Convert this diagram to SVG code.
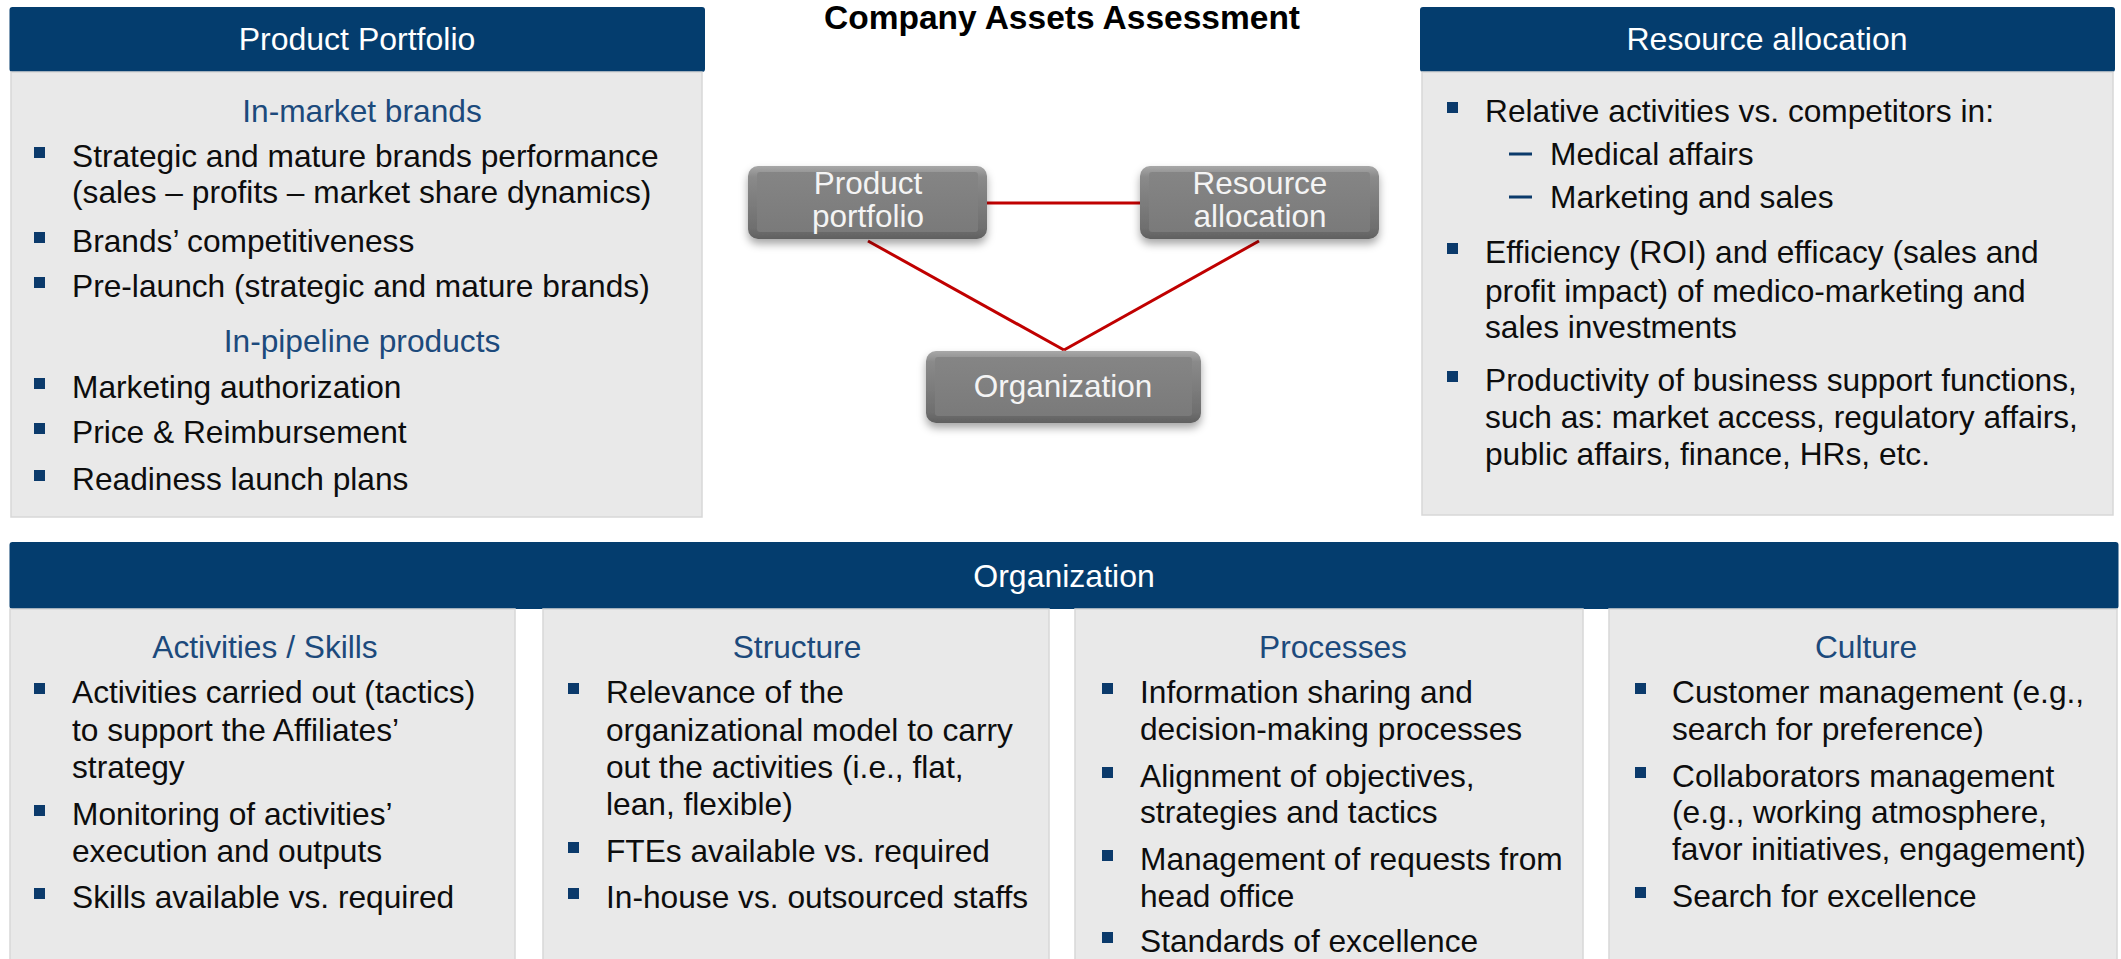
<svg xmlns="http://www.w3.org/2000/svg" width="2121" height="959" viewBox="0 0 2121 959">
<defs>
<style>
text{font-family:"Liberation Sans",Arial,sans-serif;font-size:31.7px;fill:#0d0d0d}
.hdr{fill:#043d6e}
.hdrt{fill:#ffffff;text-anchor:middle;font-size:32px}
.panel{fill:#e9e9e9;stroke:#d7d7d7;stroke-width:1.5}
.sub{fill:#1c4a7c;text-anchor:middle}
.b{fill:#0b3a6b}
.title{font-weight:bold;font-size:33.5px;text-anchor:middle;fill:#000}
.nt{fill:#f4f4f4;text-anchor:middle;font-size:31.5px}
.node{fill:url(#ng);filter:url(#sh)}
.inner{fill:url(#ig)}
.conn{stroke:#c00000;stroke-width:3;fill:none}
</style>
<linearGradient id="ng" x1="0" y1="0" x2="0" y2="1">
<stop offset="0" stop-color="#a8a8a8"/>
<stop offset="0.15" stop-color="#8a8a8a"/>
<stop offset="0.85" stop-color="#6f6f6f"/>
<stop offset="1" stop-color="#606060"/>
</linearGradient>
<linearGradient id="ig" x1="0" y1="0" x2="0" y2="1">
<stop offset="0" stop-color="#858585"/>
<stop offset="1" stop-color="#7a7a7a"/>
</linearGradient>
<filter id="sh" x="-10%" y="-20%" width="120%" height="150%">
<feDropShadow dx="0" dy="5" stdDeviation="4" flood-color="#000" flood-opacity="0.35"/>
</filter>
</defs>

<text class="title" x="1062" y="29">Company Assets Assessment</text>

<g id="product-portfolio">
<rect class="hdr" x="9.5" y="7" width="695.5" height="65" rx="3"/>
<text class="hdrt" x="357" y="50">Product Portfolio</text>
<rect class="panel" x="11" y="72" width="691" height="445"/>
<text class="sub" x="362" y="122">In-market brands</text>
<rect class="b" x="34" y="147" width="11" height="11"/>
<text x="72" y="167">Strategic and mature brands performance</text>
<text x="72" y="203">(sales – profits – market share dynamics)</text>
<rect class="b" x="34" y="232" width="11" height="11"/>
<text x="72" y="252">Brands’ competitiveness</text>
<rect class="b" x="34" y="277" width="11" height="11"/>
<text x="72" y="297">Pre-launch (strategic and mature brands)</text>
<text class="sub" x="362" y="352">In-pipeline products</text>
<rect class="b" x="34" y="378" width="11" height="11"/>
<text x="72" y="398">Marketing authorization</text>
<rect class="b" x="34" y="423" width="11" height="11"/>
<text x="72" y="443">Price &amp; Reimbursement</text>
<rect class="b" x="34" y="470" width="11" height="11"/>
<text x="72" y="490">Readiness launch plans</text>
</g>

<g id="resource-allocation">
<rect class="hdr" x="1420" y="7" width="695" height="65" rx="3"/>
<text class="hdrt" x="1767" y="50">Resource allocation</text>
<rect class="panel" x="1422" y="72" width="691" height="443"/>
<rect class="b" x="1447" y="102" width="11" height="11"/>
<text x="1485" y="122">Relative activities vs. competitors in:</text>
<rect class="b" x="1509" y="152.5" width="23" height="3"/>
<text x="1550" y="165">Medical affairs</text>
<rect class="b" x="1509" y="195.5" width="23" height="3"/>
<text x="1550" y="208">Marketing and sales</text>
<rect class="b" x="1447" y="243" width="11" height="11"/>
<text x="1485" y="263">Efficiency (ROI) and efficacy (sales and</text>
<text x="1485" y="302">profit impact) of medico-marketing and</text>
<text x="1485" y="338">sales investments</text>
<rect class="b" x="1447" y="371" width="11" height="11"/>
<text x="1485" y="391">Productivity of business support functions,</text>
<text x="1485" y="428">such as: market access, regulatory affairs,</text>
<text x="1485" y="465">public affairs, finance, HRs, etc.</text>
</g>

<g id="connectors">
<line class="conn" x1="987" y1="203" x2="1140" y2="203"/>
<line class="conn" x1="868" y1="241" x2="1064" y2="350"/>
<line class="conn" x1="1259" y1="241" x2="1064" y2="350"/>
</g>

<g id="node-product">
<rect class="node" x="748" y="166" width="239" height="73" rx="10"/>
<rect class="inner" x="757" y="172" width="221" height="60" rx="3"/>
<text class="nt" x="868" y="194">Product</text>
<text class="nt" x="868" y="227">portfolio</text>
</g>

<g id="node-resource">
<rect class="node" x="1140" y="166" width="239" height="73" rx="10"/>
<rect class="inner" x="1149" y="172" width="221" height="60" rx="3"/>
<text class="nt" x="1260" y="194">Resource</text>
<text class="nt" x="1260" y="227">allocation</text>
</g>

<g id="node-organization">
<rect class="node" x="926" y="351" width="275" height="72" rx="10"/>
<rect class="inner" x="935" y="357" width="257" height="59" rx="3"/>
<text class="nt" x="1063" y="397">Organization</text>
</g>

<g id="organization">
<rect class="hdr" x="9.5" y="542" width="2109" height="67" rx="3"/>
<text class="hdrt" x="1064" y="587">Organization</text>
</g>

<g id="col-activities">
<rect class="panel" x="10" y="609" width="505" height="352"/>
<text class="sub" x="265" y="658">Activities / Skills</text>
<rect class="b" x="34" y="683" width="11" height="11"/>
<text x="72" y="703">Activities carried out (tactics)</text>
<text x="72" y="741">to support the Affiliates’</text>
<text x="72" y="778">strategy</text>
<rect class="b" x="34" y="805" width="11" height="11"/>
<text x="72" y="825">Monitoring of activities’</text>
<text x="72" y="862">execution and outputs</text>
<rect class="b" x="34" y="888" width="11" height="11"/>
<text x="72" y="908">Skills available vs. required</text>
</g>

<g id="col-structure">
<rect class="panel" x="543" y="609" width="506" height="352"/>
<text class="sub" x="797" y="658">Structure</text>
<rect class="b" x="568" y="683" width="11" height="11"/>
<text x="606" y="703">Relevance of the</text>
<text x="606" y="741">organizational model to carry</text>
<text x="606" y="778">out the activities (i.e., flat,</text>
<text x="606" y="815">lean, flexible)</text>
<rect class="b" x="568" y="842" width="11" height="11"/>
<text x="606" y="862">FTEs available vs. required</text>
<rect class="b" x="568" y="888" width="11" height="11"/>
<text x="606" y="908">In-house vs. outsourced staffs</text>
</g>

<g id="col-processes">
<rect class="panel" x="1075" y="609" width="508" height="352"/>
<text class="sub" x="1333" y="658">Processes</text>
<rect class="b" x="1102" y="683" width="11" height="11"/>
<text x="1140" y="703">Information sharing and</text>
<text x="1140" y="740">decision-making processes</text>
<rect class="b" x="1102" y="767" width="11" height="11"/>
<text x="1140" y="787">Alignment of objectives,</text>
<text x="1140" y="823">strategies and tactics</text>
<rect class="b" x="1102" y="850" width="11" height="11"/>
<text x="1140" y="870">Management of requests from</text>
<text x="1140" y="907">head office</text>
<rect class="b" x="1102" y="932" width="11" height="11"/>
<text x="1140" y="952">Standards of excellence</text>
</g>

<g id="col-culture">
<rect class="panel" x="1609" y="609" width="508" height="352"/>
<text class="sub" x="1866" y="658">Culture</text>
<rect class="b" x="1635" y="683" width="11" height="11"/>
<text x="1672" y="703">Customer management (e.g.,</text>
<text x="1672" y="740">search for preference)</text>
<rect class="b" x="1635" y="767" width="11" height="11"/>
<text x="1672" y="787">Collaborators management</text>
<text x="1672" y="823">(e.g., working atmosphere,</text>
<text x="1672" y="860">favor initiatives, engagement)</text>
<rect class="b" x="1635" y="887" width="11" height="11"/>
<text x="1672" y="907">Search for excellence</text>
</g>
</svg>
